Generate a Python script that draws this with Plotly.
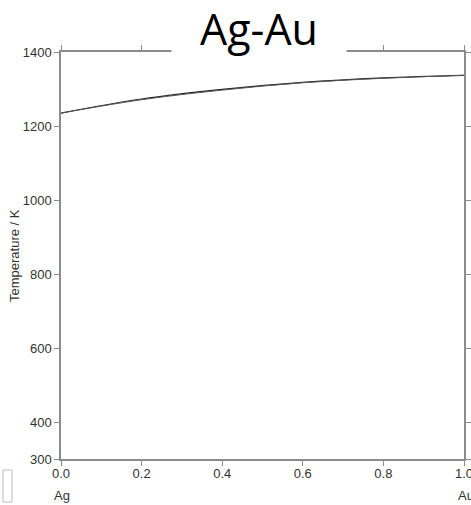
import plotly.graph_objects as go

# Composition (mole fraction Au)
x_comp = [0.0, 0.2, 0.4, 0.6, 0.8, 1.0]
liquidus = [1235, 1273, 1299, 1318, 1330, 1337]
solidus = [1235, 1271, 1297, 1317, 1329, 1337]
x_ticks = [0.0, 0.2, 0.4, 0.6, 0.8, 1.0]
y_ticks = [300, 400, 600, 800, 1000, 1200, 1400]

W, H = 471, 505
L, R, T, B = 61, 7, 52, 46

fig = go.Figure()
fig.add_trace(go.Scatter(x=x_comp, y=liquidus, mode="lines", line=dict(color="#222222", width=1.2, shape="spline"), showlegend=False))
fig.add_trace(go.Scatter(x=x_comp, y=solidus, mode="lines", line=dict(color="#555555", width=1.0, shape="spline"), showlegend=False))

axis_common = dict(showline=True, linecolor="#8c8c8c", linewidth=1.5, mirror="ticks",
                   ticks="outside", ticklen=5, tickcolor="#8c8c8c", tickwidth=1,
                   showgrid=False, zeroline=False, automargin=False, ticklabeloverflow="allow",
                   tickfont=dict(family="Liberation Sans, Arial", size=13, color="#333333"))

fig.update_xaxes(range=[0, 1], tickvals=x_ticks, ticktext=[f"{v:.1f}" for v in x_ticks],
                 ticklabelstandoff=-3, **axis_common)
fig.update_yaxes(range=[300, 1400], tickvals=y_ticks, ticktext=[str(v) for v in y_ticks], **axis_common)

plot_h = H - T - B
plot_w = W - L - R

def px_to_paper_x(px):
    return (px - L) / plot_w

def px_to_paper_y(py):
    return (H - B - py) / plot_h

fig.add_annotation(text="Temperature / K", xref="paper", yref="paper", textangle=-90,
                   x=px_to_paper_x(15), y=px_to_paper_y(256), xanchor="center", yanchor="middle",
                   showarrow=False, font=dict(family="Liberation Sans, Arial", size=13, color="#333333"))
fig.add_annotation(text="Ag-Au", xref="paper", yref="paper",
                   x=px_to_paper_x(259), y=px_to_paper_y(28), xanchor="center", yanchor="middle",
                   showarrow=False, bgcolor="white", width=172, height=56,
                   font=dict(family="Open Sans", size=43, color="black"))
fig.add_annotation(text="Ag", xref="paper", yref="paper", x=px_to_paper_x(62), y=px_to_paper_y(496),
                   xanchor="center", yanchor="middle", showarrow=False,
                   font=dict(family="Liberation Sans, Arial", size=13, color="#333333"))
fig.add_annotation(text="Au", xref="paper", yref="paper", x=px_to_paper_x(466), y=px_to_paper_y(496),
                   xanchor="center", yanchor="middle", showarrow=False,
                   font=dict(family="Liberation Sans, Arial", size=13, color="#333333"))

# small faint icon at lower-left corner
fig.add_shape(type="rect", xref="paper", yref="paper",
              x0=px_to_paper_x(3), x1=px_to_paper_x(12), y0=px_to_paper_y(502), y1=px_to_paper_y(470),
              line=dict(color="#bbbbbb", width=1), fillcolor="rgba(0,0,0,0)")

fig.update_layout(width=W, height=H, margin=dict(l=L, r=R, t=T, b=B, autoexpand=False),
                  plot_bgcolor="white", paper_bgcolor="white")

fig.write_html("out.html")
